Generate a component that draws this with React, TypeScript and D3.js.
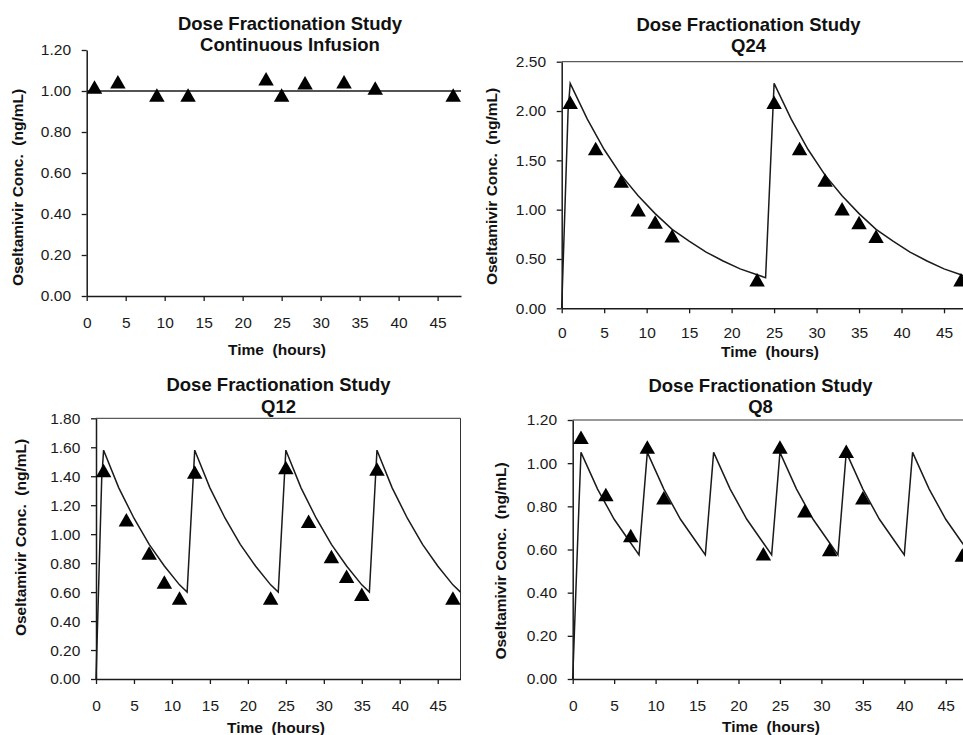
import React, { useRef, useEffect } from 'react';
import * as d3 from 'd3';

// ---- data ----
const xTicks = [0, 5, 10, 15, 20, 25, 30, 35, 40, 45];

// Continuous infusion
const ciModelT = [0, 48];
const ciModelC = [1.0, 1.0];
const ciObsT = [1, 4, 9, 13, 23, 25, 28, 33, 37, 47];
const ciObsC = [1.02, 1.045, 0.98, 0.98, 1.06, 0.98, 1.04, 1.045, 1.015, 0.98];

// Q24
const q24ModelT = [0, 0.75, 1, 3, 5, 7, 9, 11, 13, 15, 17, 19, 21, 23, 24, 25, 27, 29, 31, 33, 35, 37, 39, 41, 43, 45, 47, 48];
const q24ModelC = [0, 2.0, 2.28, 1.92, 1.61, 1.35, 1.14, 0.96, 0.8, 0.68, 0.57, 0.48, 0.4, 0.34, 0.31, 2.28, 1.92, 1.61, 1.35, 1.14, 0.96, 0.8, 0.68, 0.57, 0.48, 0.4, 0.34, 0.31];
const q24ObsT = [1, 4, 7, 9, 11, 13, 23, 25, 28, 31, 33, 35, 37, 47];
const q24ObsC = [2.09, 1.62, 1.29, 1.0, 0.875, 0.735, 0.29, 2.09, 1.62, 1.3, 1.01, 0.87, 0.73, 0.29];

// Q12
const q12ModelT = [0, 0.75, 1, 3, 5, 7, 9, 11, 12, 13, 15, 17, 19, 21, 23, 24, 25, 27, 29, 31, 33, 35, 36, 37, 39, 41, 43, 45, 47, 48];
const q12ModelC = [0, 1.38, 1.58, 1.32, 1.11, 0.93, 0.78, 0.65, 0.6, 1.58, 1.32, 1.11, 0.93, 0.78, 0.65, 0.6, 1.58, 1.32, 1.11, 0.93, 0.78, 0.65, 0.6, 1.58, 1.32, 1.11, 0.93, 0.78, 0.65, 0.6];
const q12ObsT = [1, 4, 7, 9, 11, 13, 23, 25, 28, 31, 33, 35, 37, 47];
const q12ObsC = [1.44, 1.1, 0.87, 0.67, 0.56, 1.43, 0.56, 1.46, 1.09, 0.845, 0.71, 0.585, 1.45, 0.56];

// Q8
const q8ModelT = [0, 0.75, 1, 3, 5, 7, 8, 9, 11, 13, 15, 16, 17, 19, 21, 23, 24, 25, 27, 29, 31, 32, 33, 35, 37, 39, 40, 41, 43, 45, 47, 48];
const q8ModelC = [0, 0.8, 1.05, 0.88, 0.74, 0.63, 0.575, 1.05, 0.88, 0.74, 0.63, 0.575, 1.05, 0.88, 0.74, 0.63, 0.575, 1.05, 0.88, 0.74, 0.63, 0.575, 1.05, 0.88, 0.74, 0.63, 0.575, 1.05, 0.88, 0.74, 0.63, 0.575];
const q8ObsT = [1, 4, 7, 9, 11, 23, 25, 28, 31, 33, 35, 47];
const q8ObsC = [1.12, 0.855, 0.665, 1.075, 0.84, 0.58, 1.075, 0.78, 0.6, 1.055, 0.84, 0.575];

const FONT = "'Liberation Sans', Arial, Helvetica, sans-serif";

interface PanelSpec {
  subtitle: string;
  modelT: number[];
  modelC: number[];
  obsT: number[];
  obsC: number[];
  yMax: number;
  yStep: number;
  box: boolean;
  // layout
  x0: number; x48: number; yTop: number; yBot: number;
  xPad: number;
  titleX: number; title1Y: number; title2Y: number;
  xTitleX: number; xTitleY: number;
  yTitleX: number; yTitleY: number;
}

const panels: PanelSpec[] = [
  {
    subtitle: 'Continuous Infusion', modelT: ciModelT, modelC: ciModelC, obsT: ciObsT, obsC: ciObsC,
    yMax: 1.2, yStep: 0.2, box: false,
    x0: 86.7, x48: 461, yTop: 50, yBot: 296, xPad: 16,
    titleX: 290, title1Y: 29.5, title2Y: 51, xTitleX: 277, xTitleY: 355, yTitleX: 23, yTitleY: 187.5,
  },
  {
    subtitle: 'Q24', modelT: q24ModelT, modelC: q24ModelC, obsT: q24ObsT, obsC: q24ObsC,
    yMax: 2.5, yStep: 0.5, box: true,
    x0: 561.7, x48: 969.5, yTop: 61.7, yBot: 308.3, xPad: 14,
    titleX: 748.5, title1Y: 31, title2Y: 51.5, xTitleX: 770, xTitleY: 357, yTitleX: 497, yTitleY: 186.5,
  },
  {
    subtitle: 'Q12', modelT: q12ModelT, modelC: q12ModelC, obsT: q12ObsT, obsC: q12ObsC,
    yMax: 1.8, yStep: 0.2, box: true,
    x0: 96, x48: 460.5, yTop: 418.3, yBot: 679, xPad: 16,
    titleX: 278.5, title1Y: 391, title2Y: 413, xTitleX: 276, xTitleY: 733, yTitleX: 25.6, yTitleY: 537.5,
  },
  {
    subtitle: 'Q8', modelT: q8ModelT, modelC: q8ModelC, obsT: q8ObsT, obsC: q8ObsC,
    yMax: 1.2, yStep: 0.2, box: true,
    x0: 572.7, x48: 970.6, yTop: 420, yBot: 679, xPad: 16,
    titleX: 760.5, title1Y: 391.5, title2Y: 413, xTitleX: 771, xTitleY: 732, yTitleX: 505.6, yTitleY: 561,
  },
];

export default function App() {
  const svgRef = useRef<SVGSVGElement>(null);

  useEffect(() => {
    if (!svgRef.current) return;
    const svg = d3.select(svgRef.current);
    svg.selectAll('*').remove();

    // triangle marker, centred on its bounding box
    const tw = 15.5, th = 13.5;
    const triPath = `M0,${-th / 2}L${tw / 2},${th / 2}L${-tw / 2},${th / 2}Z`;

    panels.forEach(p => {
      const g = svg.append('g');
      const x = d3.scaleLinear().domain([0, 48]).range([p.x0, p.x48]);
      const y = d3.scaleLinear().domain([0, p.yMax]).range([p.yBot, p.yTop]);
      const yTicks = d3.range(0, p.yMax + p.yStep / 2, p.yStep);

      // plot area border (top + right)
      if (p.box) {
        g.append('path')
          .attr('d', `M${p.x0},${p.yTop}H${p.x48}V${p.yBot}`)
          .attr('fill', 'none')
          .attr('stroke', '#333')
          .attr('stroke-width', 1);
      }

      // x axis
      const xa = g.append('g')
        .attr('transform', `translate(0,${p.yBot})`)
        .call(d3.axisBottom(x).tickValues(xTicks).tickSize(5).tickSizeOuter(0).tickPadding(p.xPad).tickFormat(d3.format('d')));
      xa.select('.domain').attr('stroke', '#1a1a1a').attr('stroke-width', 1.5);
      xa.selectAll('.tick line').attr('stroke', '#1a1a1a').attr('stroke-width', 1.3);
      xa.selectAll('text').attr('font-family', FONT).attr('font-size', 15.5).attr('fill', '#1a1a1a');

      // y axis
      const ya = g.append('g')
        .attr('transform', `translate(${p.x0},0)`)
        .call(d3.axisLeft(y).tickValues(yTicks).tickSize(5).tickSizeOuter(0).tickPadding(10.7).tickFormat(d3.format('.2f')));
      ya.select('.domain').attr('stroke', '#1a1a1a').attr('stroke-width', 1.5);
      ya.selectAll('.tick line').attr('stroke', '#1a1a1a').attr('stroke-width', 1.3);
      ya.selectAll('text').attr('font-family', FONT).attr('font-size', 15.5).attr('fill', '#1a1a1a');

      // model line
      const pts = p.modelT.map((t, i) => [t, p.modelC[i]] as [number, number]);
      const line = d3.line<[number, number]>().x(d => x(d[0])).y(d => y(d[1]));
      g.append('path')
        .attr('d', line(pts))
        .attr('fill', 'none')
        .attr('stroke', '#1a1a1a')
        .attr('stroke-width', 1.5)
        .attr('stroke-linejoin', 'miter');

      // observations
      g.selectAll('.obs')
        .data(p.obsT.map((t, i) => [t, p.obsC[i]]))
        .enter()
        .append('path')
        .attr('class', 'obs')
        .attr('d', triPath)
        .attr('transform', d => `translate(${x(d[0])},${y(d[1])})`)
        .attr('fill', '#000');

      // titles
      const title = g.append('text')
        .attr('font-family', FONT)
        .attr('font-weight', 'bold')
        .attr('font-size', 18.5)
        .attr('fill', '#111')
        .attr('text-anchor', 'middle');
      title.append('tspan').attr('x', p.titleX).attr('y', p.title1Y).text('Dose Fractionation Study');
      title.append('tspan').attr('x', p.titleX).attr('y', p.title2Y).text(p.subtitle);

      g.append('text')
        .attr('x', p.xTitleX)
        .attr('y', p.xTitleY)
        .attr('font-family', FONT)
        .attr('font-weight', 'bold')
        .attr('font-size', 15.5)
        .attr('fill', '#111')
        .attr('text-anchor', 'middle')
        .style('white-space', 'pre')
        .text('Time  (hours)');

      g.append('text')
        .attr('transform', `translate(${p.yTitleX},${p.yTitleY}) rotate(-90)`)
        .attr('font-family', FONT)
        .attr('font-weight', 'bold')
        .attr('font-size', 15.5)
        .attr('fill', '#111')
        .attr('text-anchor', 'middle')
        .style('white-space', 'pre')
        .text('Oseltamivir Conc.  (ng/mL)');
    });
  }, []);

  return (
    <svg
      ref={svgRef}
      width={963}
      height={735}
      style={{ position: 'absolute', left: 0, top: 0, background: '#fff' }}
    />
  );
}
